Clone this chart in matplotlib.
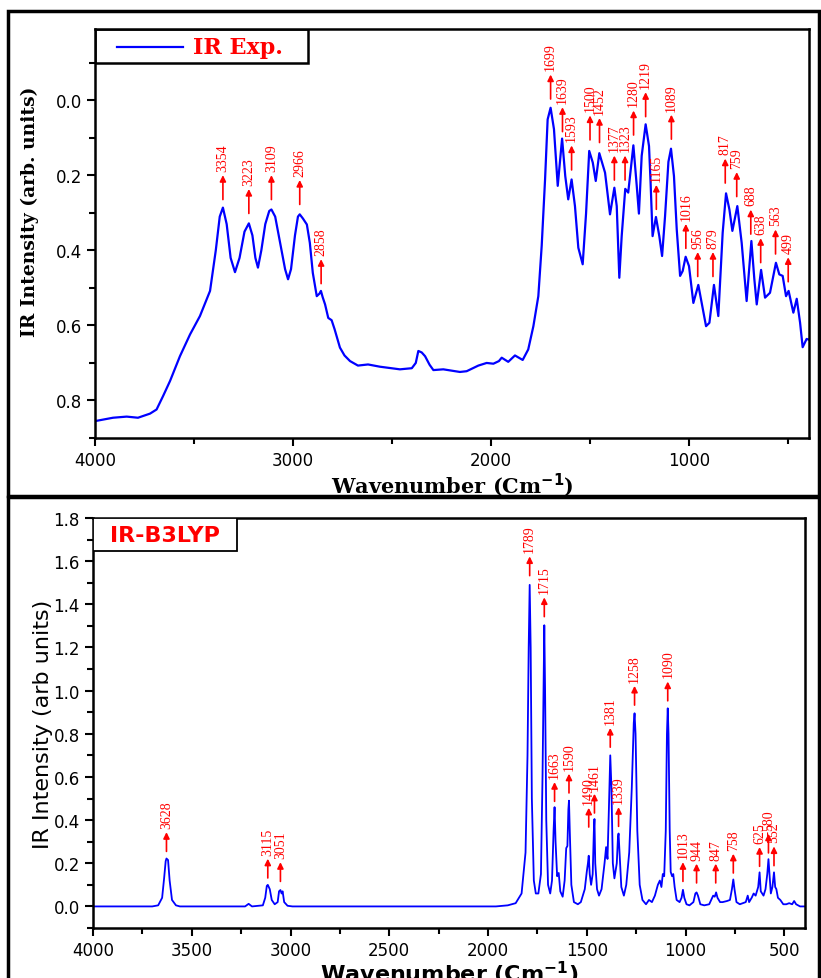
import numpy as np
import matplotlib
matplotlib.use('Agg')
import matplotlib.pyplot as plt
from matplotlib.patches import Rectangle
from matplotlib.ticker import MultipleLocator

exp_wn = [4000, 3909, 3840, 3783, 3722, 3689, 3656, 3621, 3571, 3520, 3470, 3419,
          3390, 3370, 3354, 3335, 3315, 3293, 3270, 3245, 3223, 3205, 3190, 3177,
          3160, 3140, 3120, 3109, 3090, 3065, 3040, 3025, 3010, 2990, 2975, 2966,
          2950, 2930, 2915, 2900, 2880, 2866, 2859, 2850, 2838, 2822, 2805, 2790,
          2763, 2740, 2712, 2672, 2621, 2561, 2460, 2400, 2380, 2367, 2350, 2333,
          2310, 2291, 2241, 2157, 2123, 2064, 2022, 1988, 1960, 1946, 1913, 1879,
          1840, 1812, 1786, 1761, 1744, 1727, 1714, 1699, 1682, 1663, 1641, 1625,
          1610, 1593, 1576, 1559, 1537, 1520, 1504, 1486, 1471, 1453, 1424, 1399,
          1377, 1365, 1352, 1340, 1322, 1307, 1281, 1264, 1253, 1239, 1219, 1202,
          1194, 1184, 1167, 1150, 1136, 1121, 1104, 1091, 1076, 1062, 1045, 1032,
          1017, 1000, 978, 953, 936, 914, 897, 874, 852, 830, 813, 796, 781, 756,
          734, 709, 685, 670, 658, 636, 616, 591, 561, 544, 527, 510, 497, 473,
          456, 439, 426, 406, 394]
exp_int = [0.855, 0.846, 0.843, 0.846, 0.835, 0.824, 0.788, 0.748, 0.682, 0.624, 0.575, 0.508,
           0.40, 0.31, 0.286, 0.33, 0.42, 0.458, 0.42, 0.35, 0.328, 0.36, 0.42, 0.446,
           0.40, 0.33, 0.295, 0.291, 0.31, 0.38, 0.45, 0.477, 0.45, 0.36, 0.31, 0.304,
           0.315, 0.331, 0.38, 0.46, 0.522, 0.515, 0.508, 0.525, 0.544, 0.58, 0.586, 0.61,
           0.659, 0.68, 0.695, 0.707, 0.704, 0.710, 0.717, 0.714, 0.70, 0.668, 0.672, 0.682,
           0.705, 0.719, 0.717, 0.724, 0.722, 0.707, 0.700, 0.702, 0.695, 0.686, 0.697, 0.680,
           0.692, 0.664, 0.602, 0.522, 0.388, 0.211, 0.051, 0.020, 0.077, 0.228, 0.102, 0.202,
           0.264, 0.211, 0.282, 0.393, 0.437, 0.302, 0.135, 0.166, 0.215, 0.141, 0.193, 0.304,
           0.233, 0.282, 0.473, 0.362, 0.236, 0.246, 0.120, 0.228, 0.302, 0.148, 0.064, 0.122,
           0.220, 0.362, 0.311, 0.362, 0.415, 0.309, 0.164, 0.129, 0.202, 0.344, 0.468, 0.455,
           0.417, 0.442, 0.54, 0.492, 0.54, 0.602, 0.593, 0.492, 0.575, 0.353, 0.248, 0.291, 0.348, 0.282,
           0.380, 0.535, 0.375, 0.477, 0.544, 0.452, 0.526, 0.513, 0.433, 0.464, 0.468, 0.522, 0.508, 0.566,
           0.529, 0.593, 0.658, 0.636, 0.638]

exp_peaks = [3354, 3223, 3109, 2966, 2858, 1699, 1639, 1593, 1500, 1452, 1377, 1323,
             1280, 1219, 1165, 1089, 1016, 956, 879, 817, 759, 688, 638, 563, 499]
exp_arrow_base = [0.272, 0.309, 0.272, 0.285, 0.496, 0.004, 0.091, 0.193, 0.113, 0.12, 0.22, 0.22,
                  0.10, 0.051, 0.298, 0.111, 0.402, 0.477, 0.477, 0.228, 0.264, 0.364, 0.44, 0.417, 0.491]

# B3LYP calculated spectrum
calc_wn = [4000, 3700, 3670, 3650, 3640, 3632, 3628, 3620, 3612, 3600, 3580, 3560,
           3230, 3212, 3195, 3140, 3128, 3120, 3115, 3105, 3095, 3080, 3065, 3058,
           3051, 3045, 3040, 3032, 3015, 2990, 1960, 1900, 1860, 1830, 1810, 1800,
           1794, 1789, 1784, 1778, 1768, 1758, 1745, 1732, 1724, 1719, 1715, 1711,
           1705, 1696, 1685, 1676, 1668, 1663, 1658, 1650, 1642, 1634, 1622, 1612,
           1604, 1598, 1593, 1590, 1586, 1578, 1565, 1545, 1530, 1510, 1500, 1494,
           1490, 1485, 1478, 1470, 1464, 1461, 1457, 1448, 1438, 1425, 1410, 1402,
           1395, 1388, 1381, 1375, 1368, 1360, 1348, 1342, 1339, 1334, 1325, 1312,
           1300, 1285, 1272, 1262, 1258, 1253, 1244, 1232, 1218, 1200, 1185, 1170,
           1155, 1140, 1130, 1122, 1115, 1108, 1100, 1094, 1090, 1086, 1080, 1075,
           1068, 1062, 1055, 1045, 1030, 1020, 1013, 1006, 995, 980, 960, 950,
           944, 937, 925, 905, 880, 860, 852, 845, 838, 825, 812, 790,
           775, 765, 758, 752, 742, 725, 710, 695, 685, 678, 665, 655,
           645, 632, 625, 619, 605, 595, 586, 580, 575, 568, 560, 552,
           546, 540, 532, 520, 505, 490, 475, 460, 450, 440, 420, 395]
calc_int = [0, 0, 0.005, 0.04, 0.13, 0.21, 0.222, 0.215, 0.12, 0.03, 0.005, 0,
            0, 0.012, 0, 0.005, 0.04, 0.095, 0.10, 0.08, 0.03, 0.01, 0.02, 0.07,
            0.076, 0.06, 0.07, 0.02, 0.003, 0, 0, 0.005, 0.015, 0.06, 0.25, 0.7,
            1.2, 1.49, 1.2, 0.5, 0.12, 0.06, 0.06, 0.15, 0.6, 1.0, 1.303, 1.0,
            0.4, 0.1, 0.06, 0.12, 0.35, 0.46, 0.3, 0.14, 0.155, 0.07, 0.045, 0.12,
            0.27, 0.28, 0.45, 0.49, 0.35, 0.1, 0.02, 0.01, 0.02, 0.08, 0.16, 0.2,
            0.235, 0.15, 0.1, 0.15, 0.35, 0.405, 0.2, 0.08, 0.05, 0.08, 0.2, 0.275,
            0.22, 0.45, 0.70, 0.55, 0.2, 0.13, 0.2, 0.32, 0.338, 0.25, 0.09, 0.05,
            0.1, 0.25, 0.55, 0.85, 0.895, 0.8, 0.35, 0.1, 0.03, 0.01, 0.03, 0.02,
            0.05, 0.1, 0.12, 0.09, 0.15, 0.14, 0.35, 0.8, 0.918, 0.8, 0.35, 0.16,
            0.14, 0.15, 0.09, 0.03, 0.02, 0.04, 0.077, 0.04, 0.01, 0.005, 0.02, 0.06,
            0.065, 0.05, 0.01, 0.005, 0.01, 0.05, 0.045, 0.065, 0.04, 0.02, 0.02, 0.025,
            0.03, 0.08, 0.125, 0.08, 0.02, 0.01, 0.015, 0.02, 0.05, 0.02, 0.04, 0.06,
            0.05, 0.09, 0.158, 0.07, 0.05, 0.08, 0.15, 0.219, 0.15, 0.06, 0.09, 0.158,
            0.09, 0.08, 0.04, 0.03, 0.01, 0.01, 0.015, 0.01, 0.025, 0.01, 0, 0]

calc_peaks = [3628, 3115, 3051, 1789, 1715, 1663, 1590, 1490, 1461, 1381, 1339,
              1258, 1090, 1013, 944, 847, 758, 625, 580, 552]
calc_arrow_base = [0.242, 0.119, 0.103, 1.52, 1.33, 0.474, 0.513, 0.355, 0.42, 0.725, 0.358,
                   0.92, 0.94, 0.103, 0.096, 0.096, 0.142, 0.173, 0.235, 0.176]

W, H = 821, 979
fig = plt.figure(figsize=(W / 100, H / 100), dpi=100)

# panel frames
for y0, y1 in [(12, 497), (498, 990)]:
    fig.patches.append(Rectangle((8 / W, 1 - y1 / H), (819 - 8) / W, (y1 - y0) / H,
                                 transform=fig.transFigure, fill=False, ec='black', lw=2.5))

serif_b = dict(family='DejaVu Serif', weight='bold')

# ---- top panel
ax1 = fig.add_axes([95 / W, 1 - 439 / H, 714 / W, 409 / H])
ax1.plot(exp_wn, exp_int, color='#0000ff', lw=1.6)
ax1.set_xlim(4000, 394)
ax1.set_ylim(0.9, -0.19)
ax1.xaxis.set_major_locator(MultipleLocator(1000))
ax1.xaxis.set_minor_locator(MultipleLocator(500))
ax1.yaxis.set_major_locator(MultipleLocator(0.2))
ax1.yaxis.set_minor_locator(MultipleLocator(0.1))
ax1.yaxis.set_major_formatter(matplotlib.ticker.FormatStrFormatter('%.1f'))
for a in ax1.spines.values():
    a.set_linewidth(1.8)
ax1.tick_params(which='both', direction='out', width=1.5, labelsize=12)
ax1.tick_params(which='major', length=6)
ax1.tick_params(which='minor', length=4)
ax1.set_xlabel('Wavenumber (Cm$^{\\mathbf{-1}}$)', fontsize=15, labelpad=1, **serif_b)
ax1.set_ylabel('IR Intensity (arb. units)', fontsize=13.5, **serif_b)
ax1.yaxis.set_label_coords(-0.078, 0.555)

for wn, b in zip(exp_peaks, exp_arrow_base):
    ax1.annotate('', xy=(wn, b - 0.08), xytext=(wn, b),
                 arrowprops=dict(arrowstyle='-|>', color='red', lw=1.2, mutation_scale=9))
    ax1.annotate(str(wn), xy=(wn, b - 0.08), xytext=(0, 1), textcoords='offset points',
                 rotation=90, ha='center', va='bottom', color='red', fontsize=10,
                 family='Liberation Serif')

# legend box
ax1.add_patch(Rectangle((0, 1 - 34 / 409), 213 / 714, 34 / 409, transform=ax1.transAxes,
                        fill=False, ec='black', lw=1.8))
ax1.plot([22 / 714, 88 / 714], [1 - 18 / 409] * 2, transform=ax1.transAxes,
         color='#0000ff', lw=1.6)
ax1.text(98 / 714, 1 - 18 / 409, 'IR Exp.', transform=ax1.transAxes, color='red',
         fontsize=16, va='center', ha='left', **serif_b)

# ---- bottom panel
ax2 = fig.add_axes([93 / W, 1 - 929 / H, 712 / W, 410 / H])
ax2.plot(calc_wn, calc_int, color='#0000ff', lw=1.3)
ax2.set_xlim(4000, 395)
ax2.set_ylim(-0.1, 1.8)
ax2.xaxis.set_major_locator(MultipleLocator(500))
ax2.xaxis.set_minor_locator(MultipleLocator(250))
ax2.yaxis.set_major_locator(MultipleLocator(0.2))
ax2.yaxis.set_minor_locator(MultipleLocator(0.1))
ax2.yaxis.set_major_formatter(matplotlib.ticker.FormatStrFormatter('%.1f'))
for a in ax2.spines.values():
    a.set_linewidth(1.8)
ax2.tick_params(which='both', direction='out', width=1.5, labelsize=12)
ax2.tick_params(which='major', length=6)
ax2.tick_params(which='minor', length=4)
ax2.set_xlabel('Wavenumber (Cm$^{\\mathbf{-1}}$)', fontsize=16, fontweight='bold', labelpad=0)
ax2.set_ylabel('IR Intensity (arb units)', fontsize=16, labelpad=0)

for wn, b in zip(calc_peaks, calc_arrow_base):
    ax2.annotate('', xy=(wn, b + 0.115), xytext=(wn, b),
                 arrowprops=dict(arrowstyle='-|>', color='red', lw=1.2, mutation_scale=9))
    ax2.annotate(str(wn), xy=(wn, b + 0.115), xytext=(0, 1), textcoords='offset points',
                 rotation=90, ha='center', va='bottom', color='red', fontsize=10,
                 family='Liberation Serif')

ax2.add_patch(Rectangle((0, 1 - 33 / 410), 144 / 712, 33 / 410, transform=ax2.transAxes,
                        fc='white', ec='black', lw=1.3, zorder=5))
ax2.text(72 / 712, 1 - 17 / 410, 'IR-B3LYP', transform=ax2.transAxes, color='red',
         fontsize=16, fontweight='bold', va='center', ha='center', zorder=6)

fig.savefig('out.png', dpi=100)
